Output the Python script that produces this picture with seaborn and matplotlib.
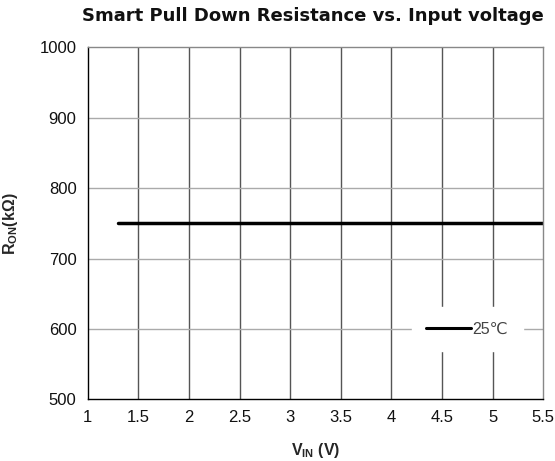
import matplotlib
matplotlib.use("Agg")
import matplotlib.pyplot as plt
import seaborn as sns
import pandas as pd

# data
vin = [1.3, 2.0, 3.0, 4.0, 5.0, 5.5]
r_on = [750, 750, 750, 750, 750, 750]
temp_label = "25\u2103"
x_ticks = [1, 1.5, 2, 2.5, 3, 3.5, 4, 4.5, 5, 5.5]
x_tick_labels = ["1", "1.5", "2", "2.5", "3", "3.5", "4", "4.5", "5", "5.5"]
y_ticks = [500, 600, 700, 800, 900, 1000]

df = pd.DataFrame({"VIN": vin, "RON": r_on, "Temp": temp_label})

sns.set_theme(style="white")
plt.rcParams["font.family"] = ["Liberation Sans", "DejaVu Sans"]
plt.rcParams["mathtext.fontset"] = "custom"
plt.rcParams["mathtext.rm"] = "Liberation Sans:bold"
plt.rcParams["mathtext.bf"] = "Liberation Sans:bold"
plt.rcParams["mathtext.it"] = "Liberation Sans:bold"

fig = plt.figure(figsize=(5.55, 4.61), dpi=100)
ax = fig.add_axes([0.158, 0.134, 0.821, 0.763])

sns.lineplot(data=df, x="VIN", y="RON", hue="Temp", palette=["black"],
             linewidth=2.5, ax=ax)

ax.set_xlim(1, 5.5)
ax.set_ylim(500, 1000)
ax.set_xticks(x_ticks)
ax.set_xticklabels(x_tick_labels)
ax.set_yticks(y_ticks)
ax.tick_params(axis="both", labelsize=12, length=0, pad=8, colors="#111111")

for x in x_ticks[1:-1]:
    ax.axvline(x, color="#555555", linewidth=1.0, zorder=0)
for y in y_ticks[1:-1]:
    ax.axhline(y, color="#aaaaaa", linewidth=1.0, zorder=0)

ax.spines["left"].set_color("black")
ax.spines["bottom"].set_color("black")
ax.spines["top"].set_color("#888888")
ax.spines["right"].set_color("#888888")
for s in ax.spines.values():
    s.set_linewidth(1.0)

# the title in the reference is set in a wide bold face
fig.text(0.564, 0.965, "Smart Pull Down Resistance vs. Input voltage",
         fontsize=13, fontweight="bold", ha="center", va="center",
         color="#111111", family="DejaVu Sans")
ax.set_xlabel("$\\mathregular{V_{IN}}$ (V)", fontsize=11.5, fontweight="bold",
              labelpad=11)
ax.set_ylabel("$\\mathregular{R_{ON}}$(k\u03a9)", fontsize=11.5, fontweight="bold",
              labelpad=14)

leg = ax.legend(loc="center", bbox_to_anchor=(4.75, 600),
                bbox_transform=ax.transData, frameon=True, fancybox=False,
                handlelength=2.8, handletextpad=0.1, borderpad=0.9,
                fontsize=11.5, title=None)
leg.get_frame().set_facecolor("white")
leg.get_frame().set_edgecolor("white")
leg.get_frame().set_alpha(1.0)
for line in leg.get_lines():
    line.set_linewidth(2.2)
for t in leg.get_texts():
    t.set_color("#444444")

fig.savefig("out.png", dpi=100)
